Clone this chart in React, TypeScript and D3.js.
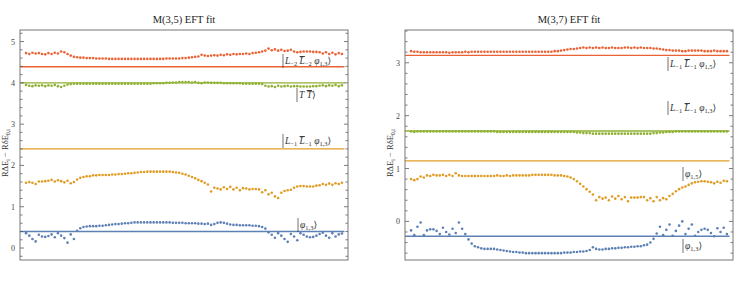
import React from "react";
import * as d3 from "d3";

// ---------- data ----------
const leftRed = [4.72,4.70,4.73,4.71,4.72,4.70,4.69,4.72,4.70,4.73,4.71,4.76,4.74,4.70,4.66,
  4.63,4.62,4.61,4.61,4.60,
  4.60,4.60,4.59,4.59,4.59,4.59,4.58,4.58,4.58,4.58,4.58,4.58,4.58,4.58,4.58,4.58,4.58,4.58,4.58,4.58,
  4.58,4.58,4.58,4.58,4.59,4.59,4.59,4.59,4.59,4.60,4.60,4.61,4.62,4.63,
  4.64,4.68,4.66,4.65,4.66,4.67,
  4.66,4.68,4.67,4.69,4.68,4.70,4.69,4.70,4.70,4.71,4.70,4.72,4.73,4.74,4.76,
  4.78,4.83,4.79,4.81,4.78,4.80,4.77,4.78,4.80,4.76,
  4.74,4.75,4.76,4.76,4.76,4.75,4.75,4.74,
  4.71,4.74,4.70,4.73,4.69,4.72,4.70];
const leftGreen = [3.95,3.93,3.92,3.94,3.93,3.94,3.92,3.94,3.93,3.95,3.92,3.90,3.93,3.96,3.97,
  3.98,3.98,3.98,3.98,3.98,3.98,3.98,3.98,3.98,3.98,
  3.98,3.98,3.98,3.98,3.98,3.98,3.98,3.98,3.98,3.98,
  3.98,3.98,3.98,3.98,3.98,3.99,3.99,3.99,3.99,4.00,
  4.00,4.01,4.01,4.02,4.02,4.02,4.02,4.01,4.02,4.00,
  3.99,4.01,4.01,4.00,4.00,4.00,4.00,3.99,3.99,3.99,3.99,3.99,3.99,3.98,3.98,3.98,3.98,3.98,3.98,3.97,
  3.93,3.91,3.92,3.90,3.93,3.91,3.92,3.93,3.91,3.92,3.92,3.91,3.91,3.91,3.91,3.92,3.92,3.93,3.94,3.92,
  3.94,3.93,3.95,3.92,3.94];
const leftOrange = [1.58,1.60,1.58,1.55,1.61,1.61,1.62,1.63,1.65,1.61,1.64,1.62,1.59,1.63,1.57,1.60,
  1.66,1.70,1.72,1.74,1.74,1.76,1.76,1.77,1.77,1.77,
  1.77,1.78,1.78,1.79,1.79,1.80,1.81,1.81,1.82,1.83,1.84,1.84,1.85,1.85,1.85,1.85,1.85,1.85,1.85,1.85,
  1.84,1.83,1.82,1.80,1.78,1.75,1.72,1.69,1.65,1.62,1.58,1.54,
  1.37,1.46,1.44,1.42,1.47,1.43,1.48,1.42,1.46,1.40,1.45,1.44,1.42,1.43,1.43,1.42,1.35,1.40,1.30,
  1.34,1.25,1.21,1.34,1.38,1.40,1.41,1.46,1.49,1.50,1.50,1.49,1.49,1.49,1.51,1.52,1.55,1.53,1.56,1.53,1.57,1.55,1.58];
const leftBlue = [0.36,0.30,0.22,0.16,0.32,0.28,0.27,0.29,0.33,0.26,0.36,0.30,0.24,0.13,0.33,0.22,
  0.42,0.48,0.51,0.52,0.53,0.53,0.53,0.54,
  0.54,0.55,0.56,0.57,0.58,0.58,0.59,0.60,0.60,0.61,0.62,0.62,
  0.62,0.62,0.62,0.62,0.62,0.62,0.62,0.62,0.62,0.62,0.61,0.61,0.61,0.61,0.60,0.60,0.60,0.60,0.59,0.59,0.58,0.59,0.56,
  0.58,0.61,0.62,0.61,0.59,0.57,
  0.56,0.56,0.55,0.55,0.55,0.55,0.54,0.54,0.53,0.51,0.47,
  0.38,0.32,0.25,0.36,0.30,0.22,0.15,0.34,0.28,0.19,0.36,0.32,0.28,0.26,0.27,0.30,0.34,0.37,0.30,0.25,0.36,0.28,0.33,0.35];
const leftLevels = [4.39, 4.0, 2.40, 0.40]; // red, green, orange, blue

const rightRed = [3.22,3.21,3.21,3.20,3.20,3.20,3.20,3.20,3.20,3.20,
  3.20,3.20,3.19,3.20,3.20,3.20,3.20,3.21,3.20,3.21,
  3.21,3.21,3.21,3.21,3.21,3.21,3.21,3.21,3.21,3.21,
  3.21,3.21,3.21,3.21,3.21,3.21,3.21,3.21,3.21,3.21,
  3.21,3.21,3.21,3.21,3.21,3.22,3.22,3.23,3.24,3.25,
  3.26,3.26,3.27,3.28,3.29,3.28,3.29,3.28,3.29,3.28,
  3.29,3.28,3.28,3.29,3.28,3.28,3.28,3.29,3.29,3.28,
  3.29,3.28,3.29,3.28,3.28,3.28,3.27,3.27,3.26,3.25,
  3.24,3.24,3.23,3.23,3.23,3.22,3.22,3.23,3.23,3.23,
  3.23,3.23,3.22,3.22,3.22,3.23,3.22,3.22,3.22,3.22];
const rightGreen = [1.70,1.69,1.70,1.70,1.70,1.70,1.70,1.70,1.70,1.70,
  1.70,1.70,1.70,1.70,1.70,1.70,1.70,1.70,1.70,1.70,
  1.70,1.70,1.70,1.70,1.70,1.70,1.70,1.69,1.69,1.69,
  1.69,1.69,1.69,1.69,1.69,1.69,1.69,1.69,1.69,1.69,
  1.69,1.69,1.69,1.69,1.69,1.69,1.69,1.69,1.69,1.69,
  1.69,1.69,1.68,1.68,1.67,1.67,1.67,1.66,1.66,1.66,
  1.66,1.66,1.66,1.66,1.66,1.66,1.66,1.66,1.66,1.66,
  1.66,1.66,1.66,1.66,1.66,1.66,1.67,1.67,1.68,1.68,
  1.69,1.69,1.69,1.70,1.70,1.70,1.70,1.70,1.70,1.70,
  1.70,1.70,1.70,1.70,1.70,1.70,1.70,1.70,1.70,1.70];
const rightOrange = [0.80,0.78,0.80,0.85,0.83,0.87,0.86,0.88,0.87,0.87,0.88,0.86,0.88,0.86,0.91,0.87,
  0.86,0.86,0.86,0.86,0.86,0.86,0.86,0.86,0.86,0.86,
  0.86,0.87,0.86,0.86,0.87,0.86,0.87,0.87,0.87,0.87,
  0.87,0.87,0.88,0.88,0.88,0.88,0.88,0.88,0.88,0.87,0.87,0.87,0.86,
  0.85,0.83,0.80,0.76,0.71,0.66,0.61,0.56,0.51,
  0.40,0.46,0.43,0.45,0.40,0.47,0.43,0.48,0.42,0.46,0.38,0.45,0.45,0.45,0.46,0.46,0.40,0.44,0.38,0.46,
  0.40,0.44,0.42,0.48,0.52,0.57,0.61,0.64,0.66,0.69,0.72,0.74,0.75,0.76,0.76,0.75,0.74,0.72,0.75,0.73,0.77,0.76];
const rightBlue = [-0.17,-0.26,-0.10,-0.02,-0.26,-0.17,-0.15,-0.15,-0.18,-0.24,-0.12,-0.20,-0.25,-0.14,-0.22,-0.02,-0.14,-0.24,
  -0.34,-0.42,-0.47,-0.49,-0.51,-0.52,-0.52,-0.52,
  -0.52,-0.53,-0.54,-0.55,-0.56,-0.57,-0.58,-0.58,-0.59,-0.59,
  -0.60,-0.60,-0.60,-0.60,-0.60,-0.60,-0.60,-0.60,-0.60,-0.60,-0.60,-0.60,-0.59,-0.59,-0.59,-0.58,-0.58,-0.57,-0.57,-0.56,-0.54,
  -0.49,-0.52,-0.53,-0.53,-0.52,-0.52,-0.51,-0.51,-0.50,-0.50,-0.49,-0.49,-0.48,-0.48,-0.47,-0.47,-0.45,-0.44,-0.40,
  -0.33,-0.23,-0.10,-0.26,-0.16,-0.06,-0.27,-0.18,-0.08,0.00,-0.24,-0.14,-0.06,-0.27,-0.20,-0.16,-0.14,-0.16,-0.22,-0.28,-0.13,-0.20,-0.12,-0.24];
const rightLevels = [3.14, 1.71, 1.145, -0.28];

const leftTicks = [0, 1, 2, 3, 4, 5];
const rightTicks = [0, 1, 2, 3];

const COLORS = ["#EB6235", "#8FB032", "#E19C24", "#5E81B5"];
const SERIF = "'Liberation Serif', 'DejaVu Serif', serif";

type Part = { t: string; sub?: boolean; it?: boolean; bar?: boolean };

function Ket({ x, y, parts }: { x: number; y: number; parts: Part[] }) {
  const els: React.ReactNode[] = [];
  let shifted = false;
  parts.forEach((p, i) => {
    let dy = 0;
    if (p.sub && !shifted) { dy = 2; shifted = true; }
    else if (!p.sub && shifted) { dy = -2; shifted = false; }
    els.push(
      <tspan key={i} dy={dy || undefined} fontSize={p.sub ? 6.5 : 9.5}
        fontStyle={p.it ? "italic" : "normal"}
        textDecoration={p.bar ? "overline" : undefined}>{p.t}</tspan>
    );
  });
  if (shifted) els.push(<tspan key="end" dy={-2} fontSize={9.5}>⟩</tspan>);
  else els.push(<tspan key="end" fontSize={9.5}>⟩</tspan>);
  return (
    <g>
      <line x1={x} x2={x} y1={y - 10} y2={y + 4} stroke="#333" strokeWidth={0.7} />
      <text x={x + 2} y={y} fontFamily={SERIF} fill="#333">{els}</text>
    </g>
  );
}

function Panel({ x0, x1, y0, y1, domain, ticks, series, levels, title, kets }: any) {
  const n = series[0].length;
  const xs = d3.scaleLinear().domain([-1.9, n - 1 + 1.9]).range([x0, x1]);
  const ys = d3.scaleLinear().domain(domain).range([y1, y0]);
  const minor = d3.range(Math.ceil(domain[0] / 0.2), Math.floor(domain[1] / 0.2) + 1).map((k) => +(k * 0.2).toFixed(2));
  const lineEnd = xs(n - 1 + 0.8);
  return (
    <g>
      <text x={(x0 + x1) / 2} y={23} textAnchor="middle" fontFamily={SERIF} fontSize={10.5} fill="#222">{title}</text>
      {levels.map((v: number, k: number) => (
        <line key={"l" + k} x1={x0} x2={lineEnd} y1={ys(v)} y2={ys(v)} stroke={COLORS[k]} strokeWidth={1.4} />
      ))}
      {series.map((s: number[], k: number) => (
        <g key={"s" + k} fill={COLORS[k]}>
          {s.map((v, i) => <circle key={i} cx={xs(i)} cy={ys(v)} r={1.3} />)}
        </g>
      ))}
      {minor.map((v: number) => {
        const major = Math.abs(v - Math.round(v)) < 1e-6;
        const L = major ? 4 : 2.5;
        return (
          <g key={"t" + v} stroke="#444" strokeWidth={0.7}>
            <line x1={x0} x2={x0 + L} y1={ys(v)} y2={ys(v)} />
            <line x1={x1} x2={x1 - L} y1={ys(v)} y2={ys(v)} />
          </g>
        );
      })}
      {ticks.map((v: number) => (
        <text key={"tl" + v} x={x0 - 5} y={ys(v) + 3} textAnchor="end" fontFamily={SERIF} fontSize={8} fill="#444">{v}</text>
      ))}
      <rect x={x0} y={y0} width={x1 - x0} height={y1 - y0} fill="none" stroke="#777" strokeWidth={1} />
      <text transform={`translate(${x0 - 12},${(y0 + y1) / 2 + 8}) rotate(-90)`} textAnchor="middle" fontFamily={SERIF} fontSize={8.5} fill="#333">
        RΔE<tspan fontSize={6} dy={1.5}>i</tspan><tspan dy={-1.5}> − RδE</tspan><tspan fontSize={6} dy={1.5}>0,i</tspan>
      </text>
      {kets.map((k: any, i: number) => <Ket key={i} x={k.x} y={k.y} parts={k.parts} />)}
    </g>
  );
}

const LL = (n: string, phi: string): Part[] => [
  { t: "L", it: true }, { t: "−" + n, sub: true }, { t: " " }, { t: "L", it: true, bar: true }, { t: "−" + n, sub: true }, { t: " φ", it: true }, { t: phi, sub: true },
];

export default function App() {
  return (
    <svg width={747} height={289} style={{ display: "block", position: "absolute", left: 0, top: 0 }}>
      <rect width={747} height={289} fill="#fff" />
      <Panel x0={20} x1={348} y0={30} y1={260} domain={[-0.29, 5.28]} ticks={leftTicks}
        series={[leftRed, leftGreen, leftOrange, leftBlue]} levels={leftLevels} title="M(3,5) EFT fit"
        kets={[
          { x: 283, y: 64, parts: LL("2", "1,3") },
          { x: 297, y: 98, parts: [{ t: "T", it: true }, { t: " " }, { t: "T", it: true, bar: true }] },
          { x: 283, y: 144, parts: LL("1", "1,3") },
          { x: 298, y: 228, parts: [{ t: "φ", it: true }, { t: "1,3", sub: true }] },
        ]} />
      <Panel x0={405} x1={733} y0={30} y1={260} domain={[-0.73, 3.62]} ticks={rightTicks}
        series={[rightRed, rightGreen, rightOrange, rightBlue]} levels={rightLevels} title="M(3,7) EFT fit"
        kets={[
          { x: 668, y: 67, parts: LL("1", "1,5") },
          { x: 668, y: 111, parts: LL("1", "1,3") },
          { x: 683, y: 177, parts: [{ t: "φ", it: true }, { t: "1,5", sub: true }] },
          { x: 683, y: 249, parts: [{ t: "φ", it: true }, { t: "1,3", sub: true }] },
        ]} />
    </svg>
  );
}
